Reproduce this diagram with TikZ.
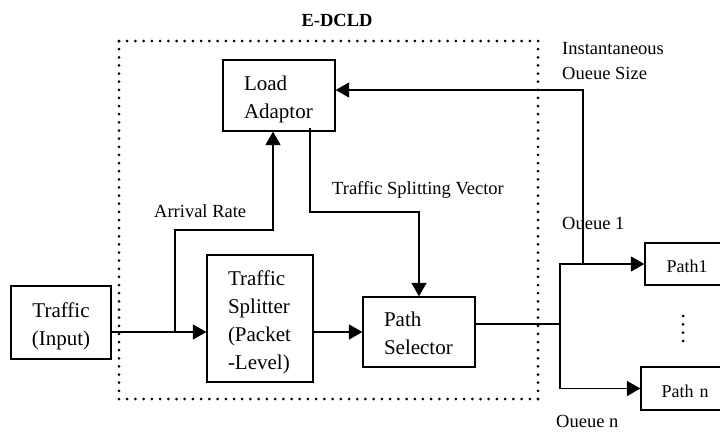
\documentclass[tikz,border=0pt]{standalone}
\usepackage{fontspec}
\setmainfont{Liberation Serif}
\usetikzlibrary{arrows.meta}
\newcommand{\hs}{\rule[-5.4pt]{0pt}{28pt}}
\begin{document}
\begin{tikzpicture}[x=1pt,y=-1pt,
  box/.style={draw, line width=1.3pt, inner ysep=0pt, inner xsep=21pt, align=left,
    font=\fontsize{21}{28}\selectfont},
  cbox/.style={draw, line width=1.3pt, inner sep=0pt, align=center,
    font=\fontsize{21}{28}\selectfont},
  pbox/.style={draw, line width=1.3pt, inner sep=0pt, align=center,
    font=\fontsize{18}{24}\selectfont},
  lab/.style={inner sep=0pt, anchor=base west, font=\fontsize{18.5}{24}\selectfont},
  arr/.style={line width=1.7pt, -{Triangle[length=13.5pt,width=15pt]}},
  thinarr/.style={line width=1.1pt, -{Triangle[length=13.5pt,width=15pt]}},
  mainline/.style={line width=1.7pt},
  dotline/.style={line width=3pt, line cap=round, dash pattern=on 0pt off #1}]
\useasboundingbox (0,0) rectangle (720,432);

% dotted frame
\coordinate (fa) at (119,41);
\coordinate (fb) at (538,41);
\coordinate (fc) at (538,399);
\coordinate (fd) at (119,399);
\draw[dotline=8.216pt] (fa) -- (fb);
\draw[dotline=8.136pt] (fb) -- (fc);
\draw[dotline=8.216pt] (fc) -- (fd);
\draw[dotline=8.136pt] (fd) -- (fa);

\node[lab, anchor=base, font=\fontsize{18.5}{22}\selectfont\bfseries] (title) at (337,26) {E-DCLD};

% boxes
\node[box, minimum width=112pt, minimum height=71pt, text width=70pt] (la) at (279,95.5)
  {\hs Load\\\hs Adaptor};
\node[cbox, minimum width=100pt, minimum height=73pt, text width=100pt] (ti) at (61,322.5)
  {\hs Traffic\\\hs (Input)};
\node[box, minimum width=106pt, minimum height=127pt, text width=64pt] (split) at (260,318.5)
  {\hs Traffic\\\hs Splitter\\\hs (Packet\\\hs -Level)};
\node[box, minimum width=112pt, minimum height=70pt, text width=70pt] (ps) at (419,332)
  {\hs Path\\\hs Selector};
\node[pbox, minimum width=84pt, minimum height=42pt, text width=84pt] (p1) at (687,264)
  {\hs Path1};
\node[pbox, minimum width=88pt, minimum height=43pt, text width=88pt] (pn) at (685,388.5)
  {\hs Path n};

% labels
\node[lab] (arrival) at (154,217) {Arrival Rate};
\node[lab] (tsv) at (332,194) {Traffic Splitting Vector};
\node[lab] (iqs1) at (562,54) {Instantaneous};
\node[lab] (iqs2) at (562,79) {Oueue Size};
\node[lab] (q1) at (562,229) {Oueue 1};
\node[lab] (qn) at (556,427) {Oueue n};

% connectors
\coordinate (j) at (175,332);
\coordinate (ar) at (273,230);
\draw[arr] (ti.east |- j) -- (split.west |- j);
\draw[arr] (j) |- (ar) -- (ar |- la.south);
\draw[arr] (split.east |- j) -- (ps.west |- j);

\coordinate (tv) at (310,212);
\draw[arr] ([yshift=4pt]tv |- la.south) -- (tv) -| (ps.north);

\coordinate (sp) at (560,324);
\draw[mainline] (ps.east |- sp) -- (sp);
\draw[arr] (sp) |- (p1.west);
\draw[arr] (sp) |- (pn.west);

\coordinate (q) at (583,90);
\draw[thinarr] (q |- p1.west) -- (q) -- (la.east |- q);

% vertical ellipsis
\foreach \yy in {316,324.3,332.7,341} \fill (683,\yy) circle (1.5pt);
\end{tikzpicture}
\end{document}
